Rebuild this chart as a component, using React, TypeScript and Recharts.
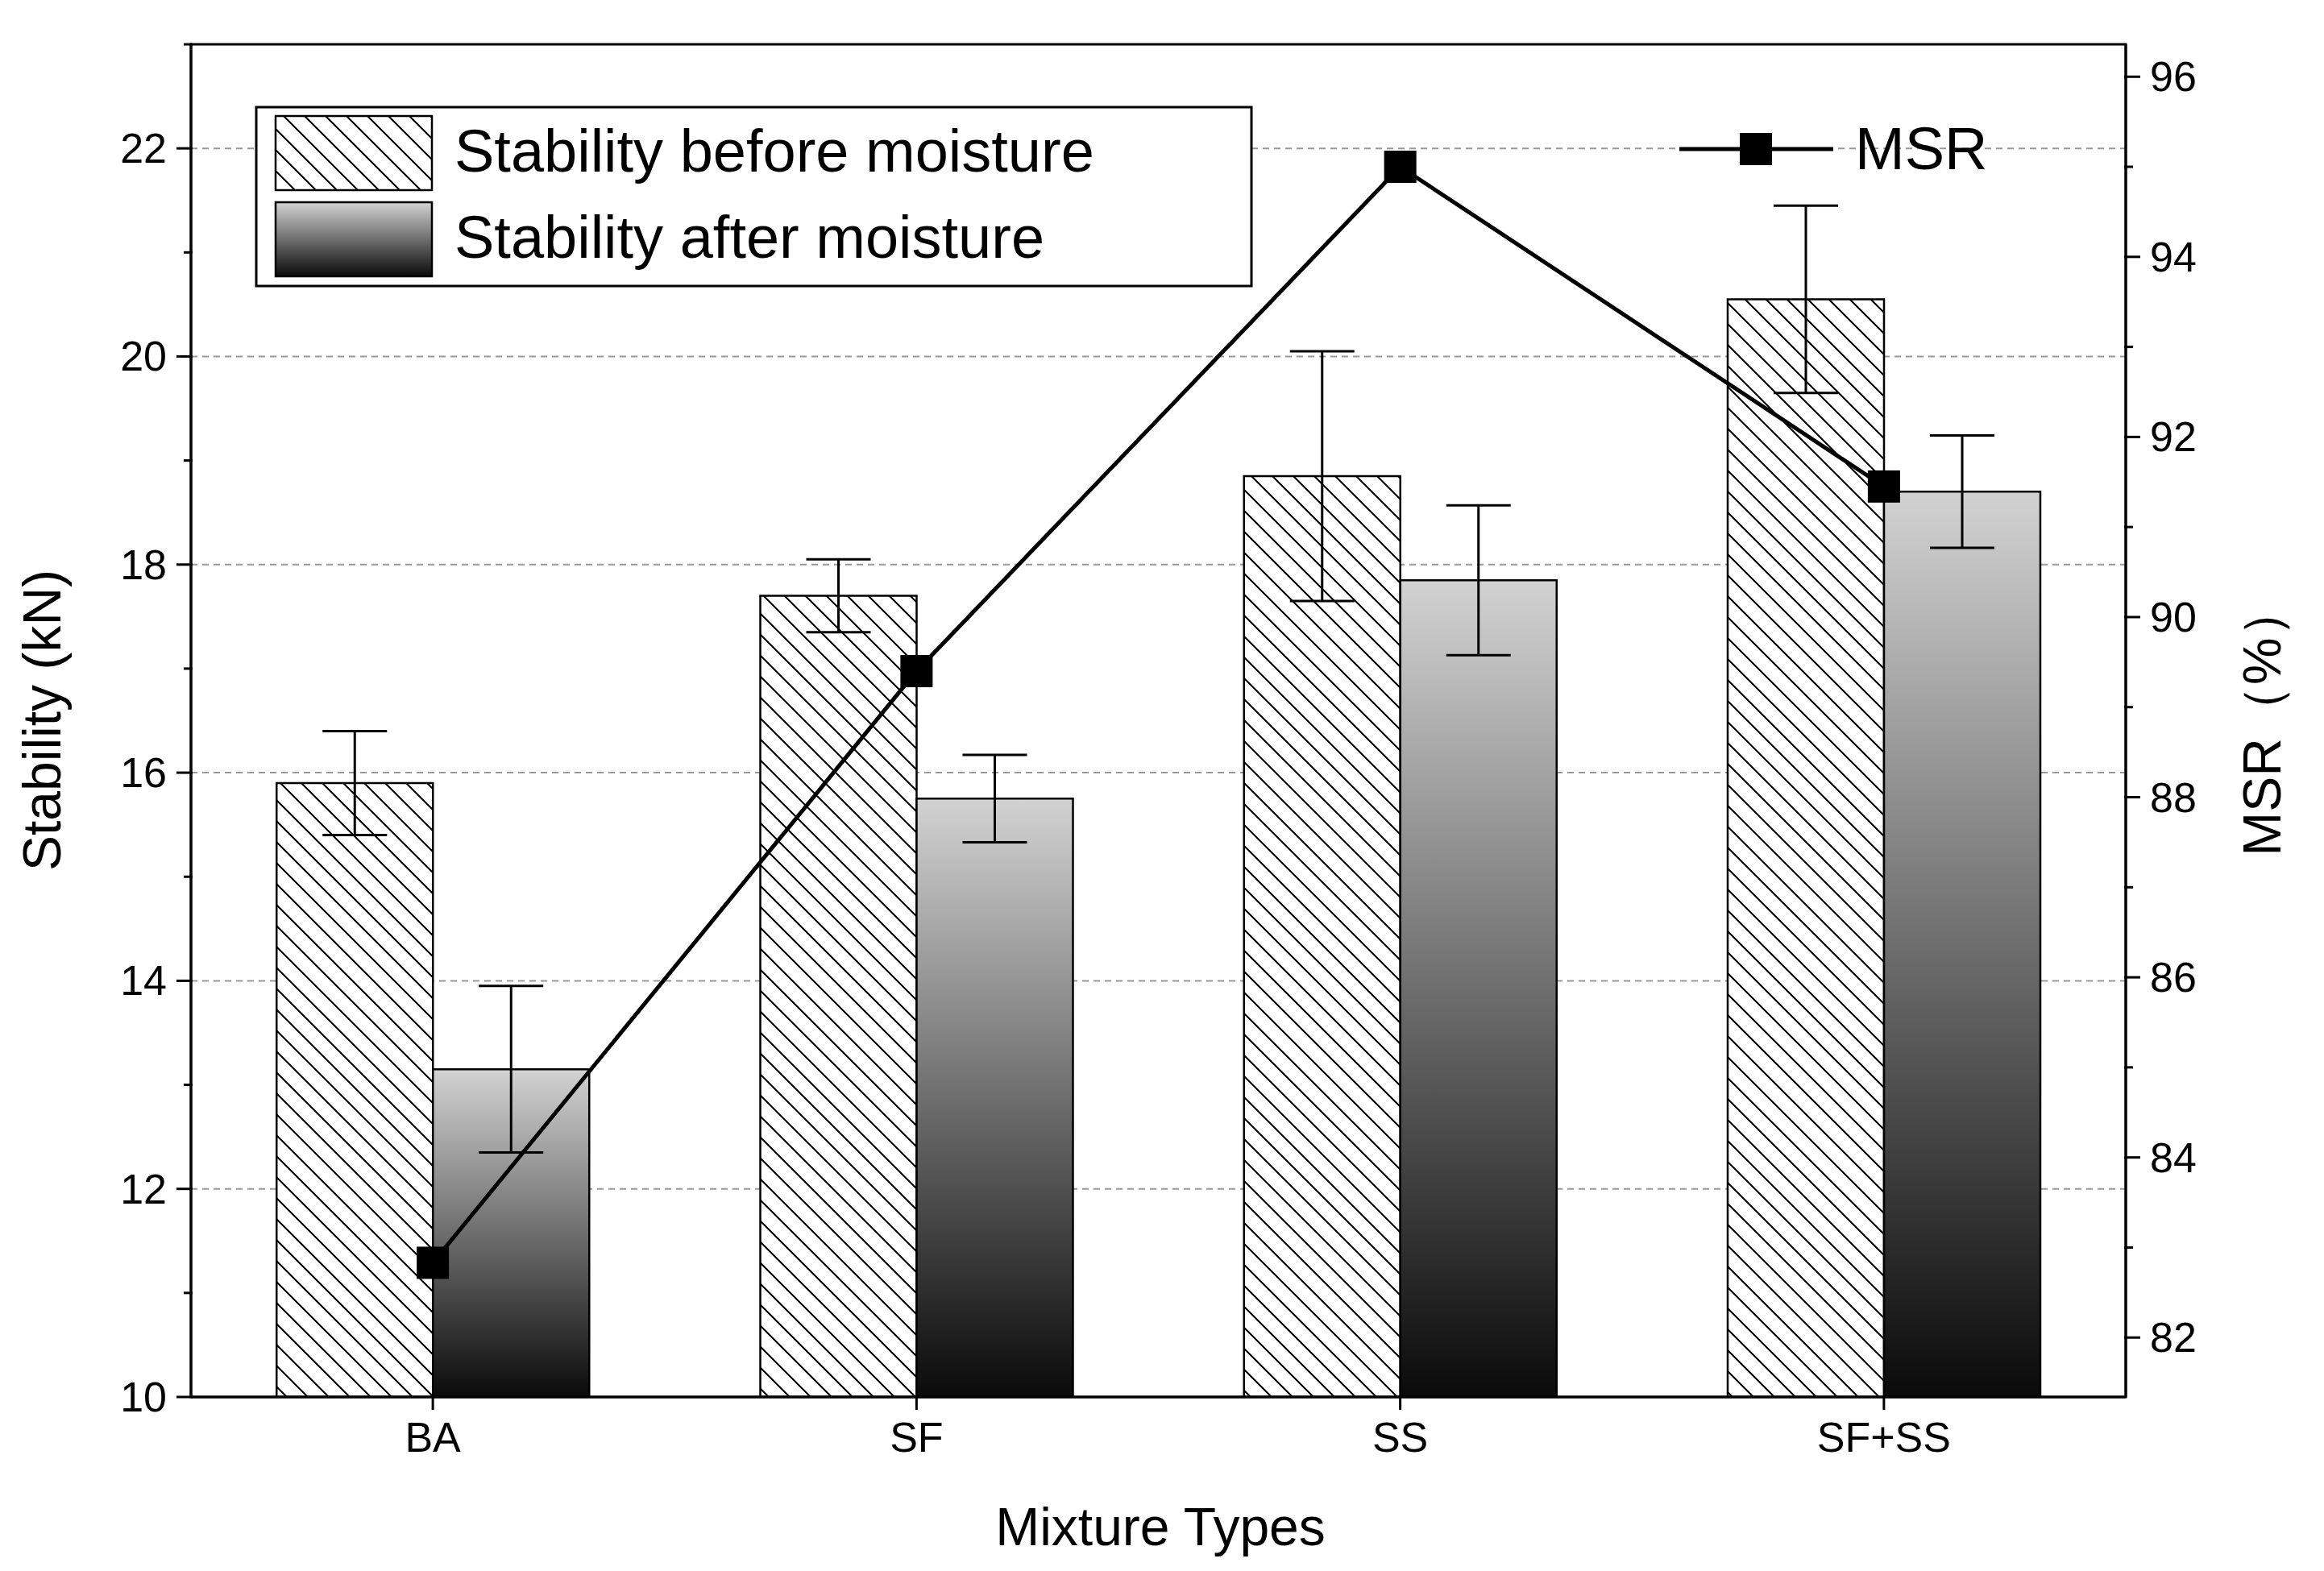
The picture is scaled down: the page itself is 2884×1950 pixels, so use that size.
import React from 'react';
import { ComposedChart, Bar, Line, XAxis, YAxis, CartesianGrid, ErrorBar } from 'recharts';

const categories = ['BA', 'SF', 'SS', 'SF+SS'];
const before = [15.9, 17.7, 18.85, 20.55];
const beforeErr = [0.5, 0.35, 1.2, 0.9];
const after = [13.15, 15.75, 17.85, 18.7];
const afterErr = [0.8, 0.42, 0.72, 0.54];
const msr = [82.83, 89.4, 95.0, 91.45];
const leftTicks = [10, 11, 12, 13, 14, 15, 16, 17, 18, 19, 20, 21, 22, 23];
const rightTicks = [82, 83, 84, 85, 86, 87, 88, 89, 90, 91, 92, 93, 94, 95, 96];

const data = categories.map((c, i) => ({
  cat: c, before: before[i], beforeErr: beforeErr[i], after: after[i], afterErr: afterErr[i], msr: msr[i],
}));

const FONT = '"Liberation Sans", Arial, sans-serif';

const LeftTick = (p: any) => {
  const { x, y, payload } = p;
  const major = payload.value % 2 === 0;
  return (
    <g>
      <line x1={x + 10} x2={x + 10 - (major ? 20 : 11)} y1={y} y2={y} stroke="#000" strokeWidth={3} />
      {major && <text x={x - 22} y={y} dy={18} textAnchor="end" fontSize={52} fontFamily={FONT} fill="#000">{payload.value}</text>}
    </g>
  );
};
const RightTick = (p: any) => {
  const { x, y, payload } = p;
  const major = payload.value % 2 === 0;
  return (
    <g>
      <line x1={x - 10} x2={x - 10 + (major ? 20 : 11)} y1={y} y2={y} stroke="#000" strokeWidth={3} />
      {major && <text x={x + 22} y={y} dy={18} textAnchor="start" fontSize={52} fontFamily={FONT} fill="#000">{payload.value}</text>}
    </g>
  );
};
const BottomTick = (p: any) => {
  const { x, y, payload } = p;
  return (
    <g>
      <line x1={x} x2={x} y1={y - 10} y2={y + 8} stroke="#000" strokeWidth={3} />
      <text x={x} y={y + 60} textAnchor="middle" fontSize={52} fontFamily={FONT} fill="#000">{payload.value}</text>
    </g>
  );
};

const Defs = ({ p }: { p: string }) => (
  <defs>
    <pattern id={p + 'hatch'} patternUnits="userSpaceOnUse" width={26} height={26}>
      <rect width={26} height={26} fill="#fff" />
      <path d="M0,0 L26,26 M-13,13 L13,39 M13,-13 L39,13" stroke="#000" strokeWidth={2} />
    </pattern>
    <linearGradient id={p + 'grad'} x1="0" y1="0" x2="0" y2="1">
      <stop offset="0" stopColor="#d2d2d2" />
      <stop offset="1" stopColor="#0a0a0a" />
    </linearGradient>
  </defs>
);

export default function App() {
  return (
    <div style={{ position: 'absolute', left: 0, top: 0, width: 2884, height: 1950, background: '#fff' }}>
      <ComposedChart width={2884} height={1950} data={data}
        margin={{ top: 55, right: 126, bottom: 136, left: 117 }} barGap={0} barCategoryGap="17.7%">
        <Defs p="c" />
        <CartesianGrid horizontal vertical={false} stroke="#999" strokeDasharray="8 6" strokeWidth={2} yAxisId="l"
          horizontalValues={[12, 14, 16, 18, 20, 22]} />
        <XAxis dataKey="cat" height={80} tick={<BottomTick />} tickLine={false} axisLine={{ stroke: '#000', strokeWidth: 3 }} />
        <YAxis yAxisId="l" domain={[10, 23]} ticks={leftTicks} width={120} tick={<LeftTick />} tickLine={false}
          axisLine={{ stroke: '#000', strokeWidth: 3 }} interval={0} allowDataOverflow />
        <YAxis yAxisId="r" orientation="right" domain={[81.34, 96.36]} ticks={rightTicks} width={120} tick={<RightTick />}
          tickLine={false} axisLine={{ stroke: '#000', strokeWidth: 3 }} interval={0} allowDataOverflow />
        <Bar yAxisId="l" dataKey="before" fill="url(#chatch)" stroke="#000" strokeWidth={2.5} isAnimationActive={false}>
          <ErrorBar dataKey="beforeErr" width={40} stroke="#000" strokeWidth={3} />
        </Bar>
        <Bar yAxisId="l" dataKey="after" fill="url(#cgrad)" stroke="#000" strokeWidth={2.5} isAnimationActive={false}>
          <ErrorBar dataKey="afterErr" width={40} stroke="#000" strokeWidth={3} />
        </Bar>
        <Line yAxisId="r" dataKey="msr" stroke="#000" strokeWidth={5} isAnimationActive={false}
          dot={(p: any) => <rect key={p.index} x={p.cx - 20} y={p.cy - 20} width={40} height={40} fill="#000" />} />
      </ComposedChart>
      <svg width={2884} height={1950} style={{ position: 'absolute', left: 0, top: 0, pointerEvents: 'none' }}>
        <Defs p="l" />
        <rect x={237} y={55} width={2401} height={1679} fill="none" stroke="#000" strokeWidth={3} />
        <text x={75} y={894} transform="rotate(-90 75 894)" textAnchor="middle" fontSize={66} fontFamily={FONT}>Stability (kN)</text>
        <text x={2830} y={894} transform="rotate(-90 2830 894)" textAnchor="middle" fontSize={66} fontFamily={FONT}>MSR（%）</text>
        <text x={1440} y={1918} textAnchor="middle" fontSize={66} fontFamily={FONT}>Mixture Types</text>
        <rect x={318} y={133} width={1235} height={222} fill="#fff" stroke="#000" strokeWidth={3} />
        <rect x={342} y={144} width={194} height={92} fill="url(#lhatch)" stroke="#000" strokeWidth={2.5} />
        <rect x={342} y={251} width={194} height={92} fill="url(#lgrad)" stroke="#000" strokeWidth={2.5} />
        <text x={564} y={213} fontSize={74} fontFamily={FONT}>Stability before moisture</text>
        <text x={564} y={320} fontSize={74} fontFamily={FONT}>Stability after moisture</text>
        <line x1={2084} x2={2275} y1={185} y2={185} stroke="#000" strokeWidth={5} />
        <rect x={2159} y={165} width={40} height={40} fill="#000" />
        <text x={2302} y={210} fontSize={74} fontFamily={FONT}>MSR</text>
      </svg>
    </div>
  );
}
